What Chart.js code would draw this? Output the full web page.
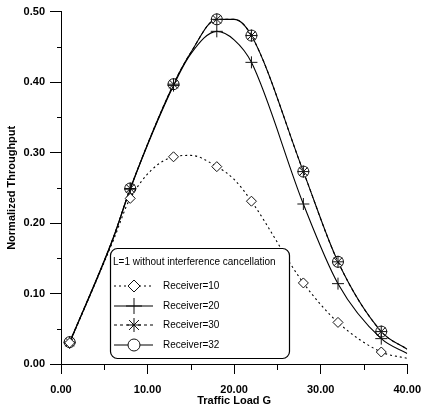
<!DOCTYPE html>
<html>
<head>
<meta charset="utf-8">
<script src="https://cdn.jsdelivr.net/npm/chart.js@4"></script>
<style>
  body { margin: 0; background: #fff; }
  #wrap { width: 430px; height: 411px; }
</style>
</head>
<body>
<div id="wrap"><canvas id="chart" width="430" height="411"></canvas></div>
<script>
// traffic load G where the curves were read
const loadG = [1, 6, 8, 13, 15, 18, 20, 22, 28, 32, 37, 40];
// loads that carry a marker
const markAt = [1, 8, 13, 18, 22, 28, 32, 37];

const recv10 = [0.030, 0.174, 0.235, 0.294, 0.296, 0.280, 0.262, 0.231, 0.115, 0.059, 0.017, 0.008];
const recv20 = [0.030, 0.177, 0.248, 0.395, 0.440, 0.472, 0.460, 0.428, 0.227, 0.114, 0.036, 0.015];
const recv30 = [0.031, 0.178, 0.249, 0.397, 0.442, 0.489, 0.489, 0.466, 0.273, 0.145, 0.046, 0.021];
const recv32 = [0.031, 0.178, 0.249, 0.397, 0.442, 0.489, 0.489, 0.466, 0.273, 0.145, 0.046, 0.021];

const xTicks = [0, 10, 20, 30, 40];
const yTicks = [0, 0.1, 0.2, 0.3, 0.4, 0.5];

const legendTitle = "L=1 without interference cancellation";

function pts(vals) {
  return loadG.map((g, i) => ({ x: g, y: vals[i] }));
}

function series(label, vals, style, r, dash) {
  return {
    label: label,
    data: pts(vals),
    borderColor: "#000",
    borderWidth: 1.1,
    borderDash: dash,
    pointStyle: style,
    pointRadius: c => markAt.includes(loadG[c.dataIndex]) ? r : 0,
    pointBorderColor: "#111",
    pointBackgroundColor: "#fff",
    pointBorderWidth: 1,
    cubicInterpolationMode: "monotone",
    fill: false
  };
}

const sets = [
  series("Receiver=10", recv10, "rectRot", 5, [2, 3]),
  series("Receiver=20", recv20, "cross", 6, []),
  series("Receiver=30", recv30, "star", 6, [3, 3]),
  series("Receiver=32", recv32, "circle", 5.5, [])
];

// minor ticks and the boxed legend
const extras = {
  id: "extras",
  afterDraw(chart) {
    const ctx = chart.ctx;
    const xs = chart.scales.x, ys = chart.scales.y;
    ctx.save();
    ctx.strokeStyle = "#000";
    ctx.lineWidth = 1;
    ctx.beginPath();
    [5, 15, 25, 35].forEach(v => {
      const px = Math.round(xs.getPixelForValue(v)) + 0.5;
      ctx.moveTo(px, xs.top);
      ctx.lineTo(px, xs.top + 6);
    });
    [0.05, 0.15, 0.25, 0.35, 0.45].forEach(v => {
      const py = Math.round(ys.getPixelForValue(v)) + 0.5;
      ctx.moveTo(ys.right, py);
      ctx.lineTo(ys.right - 4, py);
    });
    ctx.stroke();

    // legend box
    const bx = 110.5, by = 248.5, bw = 179, bh = 110;
    ctx.beginPath();
    ctx.roundRect(bx, by, bw, bh, 7);
    ctx.fillStyle = "#fff";
    ctx.fill();
    ctx.lineWidth = 1.2;
    ctx.stroke();

    ctx.fillStyle = "#000";
    ctx.font = "10px 'Liberation Sans', Arial, sans-serif";
    ctx.textBaseline = "middle";
    ctx.textAlign = "left";
    ctx.fillText(legendTitle, 113, 262);

    const rowY = [286, 306, 325, 345];
    const legR = [6, 8, 7, 6];
    sets.forEach((s, i) => {
      const y = rowY[i];
      ctx.lineWidth = 1.1;
      ctx.strokeStyle = "#000";
      ctx.setLineDash(s.borderDash);
      ctx.beginPath();
      ctx.moveTo(114, y);
      ctx.lineTo(153, y);
      ctx.stroke();
      ctx.setLineDash([]);
      ctx.fillStyle = "#fff";
      ctx.strokeStyle = "#111";
      ctx.lineWidth = 1;
      Chart.helpers.drawPoint(ctx, { pointStyle: s.pointStyle, radius: legR[i], borderWidth: 1, rotation: 0 }, 134, y);
      ctx.fillStyle = "#000";
      ctx.fillText(s.label, 163, y);
    });
    ctx.restore();
  }
};

new Chart(document.getElementById("chart"), {
  type: "line",
  data: { datasets: sets },
  options: {
    responsive: false,
    animation: false,
    layout: { padding: { top: 9, right: 13, left: 0, bottom: 0 } },
    plugins: { legend: { display: false }, tooltip: { enabled: false } },
    scales: {
      x: {
        type: "linear",
        min: 0,
        max: 40,
        afterFit: s => { s.height = 47; },
        afterBuildTicks: s => { s.ticks = xTicks.map(v => ({ value: v })); },
        ticks: {
          color: "#000",
          padding: 9,
          maxRotation: 0,
          font: { family: "'Liberation Sans', Arial, sans-serif", size: 11, weight: "bold" },
          callback: v => v.toFixed(2)
        },
        grid: { drawOnChartArea: false, drawTicks: true, tickLength: 10, color: "#000", lineWidth: 1 },
        border: { display: true, color: "#000", width: 1 },
        title: {
          display: true,
          text: "Traffic Load G",
          color: "#000",
          padding: { top: 0, bottom: 3 },
          font: { family: "'Liberation Sans', Arial, sans-serif", size: 11, weight: "bold" }
        }
      },
      y: {
        type: "linear",
        min: 0,
        max: 0.5,
        afterFit: s => { s.width = 61; },
        afterBuildTicks: s => { s.ticks = yTicks.map(v => ({ value: v })); },
        ticks: {
          color: "#000",
          padding: 5,
          font: { family: "'Liberation Sans', Arial, sans-serif", size: 11, weight: "bold" },
          callback: v => v.toFixed(2)
        },
        grid: { drawOnChartArea: false, drawTicks: true, tickLength: 11, color: "#000", lineWidth: 1 },
        border: { display: true, color: "#000", width: 1 },
        title: {
          display: true,
          text: "Normalized Throughput",
          color: "#000",
          padding: { top: 5, bottom: 0 },
          font: { family: "'Liberation Sans', Arial, sans-serif", size: 11, weight: "bold" }
        }
      }
    }
  },
  plugins: [extras]
});
</script>
</body>
</html>
